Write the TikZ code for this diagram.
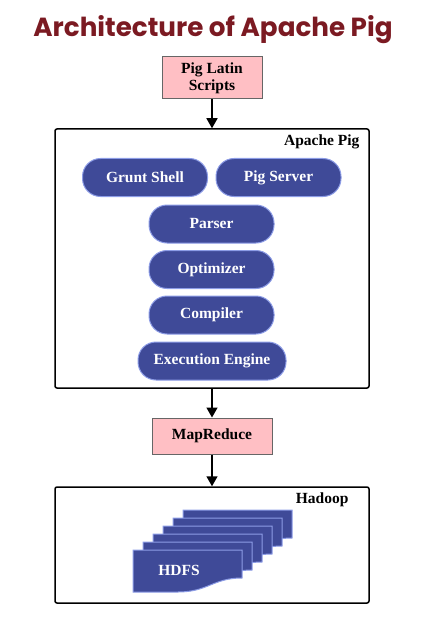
\documentclass[tikz,border=0pt]{standalone}
\usepackage{fontspec}
\setmainfont{Liberation Serif}
\newfontfamily\titlefont{Poppins}
\usepackage{xcolor}
\usetikzlibrary{arrows.meta}
\definecolor{pigred}{HTML}{7B1A22}
\definecolor{pigpink}{HTML}{FFBFC4}
\definecolor{pigblue}{HTML}{3F4A98}
\definecolor{pigedge}{HTML}{8C9CE6}

\tikzset{
  pill/.style={draw=pigedge, fill=pigblue, line width=1pt, rounded corners=18pt,
    minimum width=125pt, minimum height=38pt, text=white, font=\fontsize{15.5}{17}\selectfont\bfseries},
  pinkbox/.style={draw=black!60, fill=pigpink, line width=1pt, align=center,
    font=\fontsize{15.5}{17}\selectfont\bfseries},
  frame/.style={draw=black, line width=1.5pt, rounded corners=2pt},
  flow/.style={-{Triangle[width=11pt,length=10pt]}, line width=1.5pt},
  sheet/.style={draw=pigedge, fill=pigblue, line width=1pt},
}

\begin{document}
\begin{tikzpicture}[x=1pt, y=-1pt]
    \useasboundingbox (0,0) rectangle (424,639);
    % title
    \node (title) [anchor=base, text=pigred, font=\titlefont\fontsize{26.2}{28}\selectfont\bfseries] at (213,37) {Architecture of Apache Pig};

    \node (scripts) [pinkbox, minimum width=100pt, minimum height=42pt] at (212,78) {Pig Latin\\[0pt]Scripts};

    % Apache Pig box
    \node (pig) [frame, minimum width=314pt, minimum height=259pt] at (212,258.5) {};
    \node (piglabel) [anchor=east, font=\fontsize{15.5}{17}\selectfont\bfseries] at (363,142) {Apache Pig};
    \node (grunt) [pill] at (145,177.5) {Grunt Shell};
    \node (server) [pill] at (278.5,177.5) {Pig Server};
    \node (parser) [pill] at (211.5,224) {Parser};
    \node (optimizer) [pill] at (211.5,269.5) {Optimizer};
    \node (compiler) [pill] at (211.5,315) {Compiler};
    \node (engine) [pill, minimum width=148pt] at (212,361) {Execution Engine};

    \node (mapreduce) [pinkbox, minimum width=120pt, minimum height=36pt] at (212,436) {MapReduce};

    % Hadoop box
    \node (hadoop) [frame, minimum width=314pt, minimum height=116pt] at (212,545) {};
    \node (hadooplabel) [anchor=east, font=\fontsize{15.5}{17}\selectfont\bfseries] at (352,500) {Hadoop};
    \foreach \i in {5,...,0}
        \draw[sheet, shift={(133+10*\i,550-8*\i)}] (0,0) -- (109,0) -- (109,28)
            .. controls (80,28) and (75,42) .. (45,42) -- (0,42) -- cycle;
    \node (hdfs) [text=white, font=\fontsize{15.5}{17}\selectfont\bfseries] at (179,570) {HDFS};

    \draw[flow] (scripts.south) -- (pig.north);
    \draw[flow] (pig.south) -- (mapreduce.north);
    \draw[flow] (mapreduce.south) -- (hadoop.north);
\end{tikzpicture}
\end{document}
